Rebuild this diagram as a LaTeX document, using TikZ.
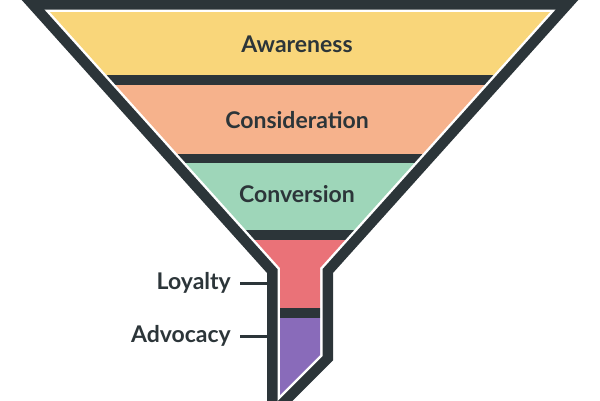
\documentclass[tikz,border=0pt]{standalone}
\usepackage{fontspec}
\setmainfont{Lato}
\definecolor{dark}{HTML}{2C3539}
\definecolor{cyel}{HTML}{F9D67A}
\definecolor{cora}{HTML}{F6B28C}
\definecolor{cgrn}{HTML}{9ED6B9}
\definecolor{cred}{HTML}{EA7278}
\definecolor{cpur}{HTML}{896BBA}
\begin{document}
\begin{tikzpicture}[x=1pt,y=-1pt,
  lbl/.style={font=\fontsize{23}{27}\selectfont\bfseries, text=dark, inner sep=0pt},
  side/.style={font=\fontsize{23}{27}\selectfont\bfseries, text=dark, inner sep=0pt, anchor=east},
  leader/.style={draw=dark, line width=3pt}]
\useasboundingbox (0,0) rectangle (600,400);
\coordinate (p1) at (50,12);
\coordinate (p2) at (550,12);
\coordinate (p3) at (320,268);
\coordinate (p4) at (320,355);
\coordinate (p5) at (280,395);
\coordinate (p6) at (280,268);
\draw[dark, line width=26pt, line join=miter] (p1) -- (p2) -- (p3) -- (p4) -- (p5) -- (p6) -- cycle;
\draw[white, line width=5pt, line join=miter] (p1) -- (p2) -- (p3) -- (p4) -- (p5) -- (p6) -- cycle;
\begin{scope}
\clip (p1) -- (p2) -- (p3) -- (p4) -- (p5) -- (p6) -- cycle;
\fill[cyel] (0,0) rectangle (600,75);
\fill[dark] (0,75) rectangle (600,85);
\fill[cora] (0,85) rectangle (600,154);
\fill[dark] (0,154) rectangle (600,163);
\fill[cgrn] (0,163) rectangle (600,230);
\fill[dark] (0,230) rectangle (600,240);
\fill[cred] (0,240) rectangle (600,308);
\fill[dark] (0,308) rectangle (600,318);
\fill[cpur] (0,318) rectangle (600,410);
\end{scope}
\node[lbl] (aw) at (297,44) {Awareness};
\node[lbl] (co) at (297,120) {Consideration};
\node[lbl] (cv) at (297,194) {Conversion};
\node[side] (lo) at (231,283) {Loyalty};
\node[side] (ad) at (231,336) {Advocacy};
\coordinate (lo2) at (267,283);
\coordinate (ad2) at (267,336);
\draw[leader] ([xshift=9pt]lo.east) -- (lo2);
\draw[leader] ([xshift=9pt]ad.east) -- (ad2);
\end{tikzpicture}
\end{document}
